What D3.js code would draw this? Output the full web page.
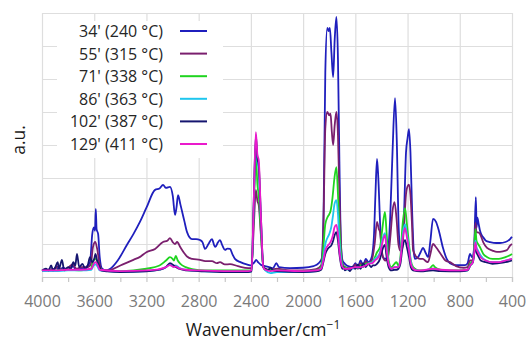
<!DOCTYPE html>
<html>
<head>
<meta charset="utf-8">
<script src="https://cdn.jsdelivr.net/npm/d3@7"></script>
<style>
  html, body { margin: 0; padding: 0; background: #fff; }
  svg { display: block; font-family: "Open Sans", "Liberation Sans", sans-serif; }
</style>
</head>
<body>
<svg id="chart" width="526" height="343"></svg>
<script>
// ---------------- DATA ----------------
const seriesNames = ["34' (240 °C)", "55' (315 °C)", "71' (338 °C)", "86' (363 °C)", "102' (387 °C)", "129' (411 °C)"];
const xLabelTicks = [4000, 3600, 3200, 2800, 2400, 2000, 1600, 1200, 800, 400];
const xMinorTicks = [4000, 3800, 3600, 3400, 3200, 3000, 2800, 2600, 2400, 2200, 2000, 1800, 1600, 1400, 1200, 1000, 800, 600, 400];
const yGridTicks = [0, 1, 2, 3, 4, 5, 6, 7, 8];

// [wavenumber cm-1, absorbance a.u.]
const s34 = [[4000,0.18],[3950,0.22],[3920,0.2],[3890,0.3],[3870,0.2],[3840,0.28],[3800,0.22],[3760,0.32],[3740,0.22],[3700,0.25],[3660,0.3],[3632,0.45],[3615,1.3],[3602,1.5],[3594,1.4],[3588,2.06],[3582,1.45],[3570,1.3],[3558,0.6],[3540,0.25],[3510,0.2],[3480,0.24],[3420,0.5],[3350,0.97],[3300,1.3],[3250,1.67],[3200,2.1],[3134,2.64],[3100,2.68],[3073,2.79],[3050,2.7],[3020,2.73],[2998,2.45],[2981,1.88],[2970,2.1],[2958,2.48],[2940,2.2],[2910,1.7],[2889,1.36],[2851,1.15],[2820,1.15],[2790,1.12],[2770,1.05],[2751,0.85],[2725,1.0],[2698,1.15],[2680,0.95],[2672,0.91],[2652,1.05],[2637,1.12],[2618,0.95],[2598,0.82],[2580,0.86],[2560,0.85],[2540,0.68],[2522,0.55],[2480,0.45],[2420,0.37],[2400,0.35],[2385,0.4],[2372,0.45],[2360,0.52],[2345,0.45],[2320,0.36],[2300,0.34],[2260,0.3],[2230,0.27],[2205,0.42],[2185,0.3],[2100,0.27],[2000,0.28],[1920,0.33],[1880,0.42],[1858,0.55],[1843,2.0],[1830,6.2],[1815,7.55],[1805,7.45],[1795,7.55],[1783,6.8],[1770,6.06],[1758,7.2],[1745,7.88],[1733,6.6],[1722,3.5],[1710,1.0],[1698,0.5],[1680,0.4],[1650,0.32],[1620,0.3],[1600,0.42],[1580,0.3],[1560,0.5],[1540,0.35],[1520,0.55],[1500,0.45],[1475,0.6],[1458,1.2],[1446,2.5],[1434,3.58],[1424,3.0],[1410,1.6],[1400,0.9],[1388,0.6],[1370,0.55],[1352,0.7],[1333,1.8],[1315,3.8],[1296,5.42],[1283,4.2],[1268,1.5],[1256,0.9],[1242,0.92],[1228,1.8],[1212,3.76],[1200,4.2],[1189,4.48],[1178,3.8],[1165,2.0],[1152,0.75],[1143,0.55],[1120,0.6],[1100,0.75],[1082,0.88],[1060,0.72],[1043,0.6],[1025,1.1],[1005,1.76],[982,1.67],[960,1.4],[930,0.9],[900,0.55],[875,0.42],[830,0.36],[790,0.36],[760,0.36],[740,0.42],[722,0.7],[705,0.6],[690,0.9],[677,2.42],[671,1.5],[665,1.8],[655,1.6],[645,1.4],[630,1.25],[620,1.2],[600,1.1],[568,1.06],[520,1.03],[492,1.03],[450,1.06],[415,1.15],[400,1.22]];

const s55 = [[4000,0.18],[3950,0.22],[3900,0.25],[3880,0.32],[3850,0.22],[3800,0.28],[3765,0.38],[3735,0.25],[3700,0.3],[3650,0.3],[3625,0.4],[3610,0.9],[3592,1.06],[3575,0.8],[3560,0.4],[3540,0.22],[3500,0.2],[3480,0.21],[3400,0.35],[3300,0.52],[3249,0.61],[3200,0.75],[3134,0.85],[3073,1.06],[3040,1.1],[3020,1.18],[2997,1.05],[2981,1.0],[2965,1.06],[2940,0.9],[2910,0.72],[2889,0.62],[2850,0.55],[2790,0.52],[2750,0.48],[2698,0.48],[2660,0.42],[2637,0.45],[2600,0.38],[2560,0.39],[2500,0.33],[2420,0.27],[2395,0.27],[2378,1.5],[2362,2.64],[2350,2.3],[2340,2.18],[2322,1.2],[2305,0.35],[2290,0.25],[2250,0.22],[2200,0.25],[2100,0.2],[2000,0.2],[1900,0.24],[1862,0.35],[1845,1.5],[1830,4.5],[1815,5.0],[1800,4.9],[1790,4.95],[1780,4.4],[1770,4.0],[1758,4.6],[1745,5.0],[1733,4.3],[1722,2.5],[1708,0.8],[1698,0.4],[1680,0.3],[1650,0.27],[1620,0.28],[1600,0.38],[1580,0.25],[1560,0.42],[1540,0.3],[1520,0.48],[1500,0.4],[1475,0.5],[1452,1.0],[1434,1.67],[1420,1.45],[1411,1.36],[1400,0.9],[1388,0.6],[1370,0.5],[1350,0.6],[1330,1.3],[1315,2.0],[1300,2.27],[1285,1.8],[1270,1.0],[1255,0.8],[1242,0.85],[1228,1.5],[1212,2.5],[1200,2.75],[1189,2.8],[1178,2.5],[1165,1.5],[1158,0.82],[1130,0.6],[1105,0.55],[1082,0.55],[1060,0.48],[1043,0.45],[1025,0.7],[1005,1.0],[982,0.9],[951,0.73],[910,0.5],[875,0.45],[829,0.33],[770,0.28],[740,0.3],[722,0.5],[705,0.5],[690,0.8],[680,1.64],[672,1.35],[660,1.35],[645,1.3],[620,1.05],[591,0.88],[550,0.8],[515,0.76],[470,0.78],[438,0.82],[415,0.95],[400,1.0]];

const s71 = [[4000,0.18],[3900,0.2],[3800,0.22],[3700,0.2],[3625,0.25],[3607,0.5],[3590,0.55],[3574,0.45],[3558,0.25],[3500,0.18],[3400,0.18],[3300,0.2],[3200,0.25],[3100,0.35],[3050,0.5],[3020,0.6],[3000,0.55],[2990,0.5],[2975,0.64],[2960,0.5],[2940,0.4],[2900,0.3],[2850,0.24],[2750,0.2],[2600,0.2],[2420,0.2],[2395,0.2],[2378,2.0],[2362,3.7],[2350,2.8],[2340,2.48],[2322,1.3],[2305,0.3],[2290,0.22],[2200,0.2],[2000,0.18],[1900,0.2],[1862,0.3],[1845,0.9],[1830,1.6],[1812,1.82],[1800,1.9],[1790,2.0],[1775,2.4],[1760,3.0],[1745,3.33],[1733,2.5],[1722,1.5],[1708,0.6],[1698,0.35],[1680,0.3],[1650,0.25],[1600,0.3],[1560,0.35],[1520,0.4],[1500,0.42],[1470,0.45],[1450,0.6],[1434,0.75],[1411,0.9],[1395,1.4],[1373,1.97],[1360,1.3],[1345,0.5],[1325,0.3],[1300,0.4],[1285,0.45],[1270,0.35],[1255,0.6],[1240,1.5],[1219,2.09],[1205,1.6],[1189,1.0],[1175,0.5],[1158,0.3],[1130,0.22],[1100,0.2],[1045,0.2],[1020,0.3],[1005,0.36],[990,0.3],[950,0.22],[900,0.2],[800,0.2],[740,0.22],[720,0.4],[700,0.5],[690,0.8],[680,1.45],[672,1.1],[660,1.0],[645,0.9],[620,0.7],[590,0.6],[550,0.55],[500,0.55],[450,0.6],[420,0.65],[400,0.7]];

const s86 = [[4000,0.18],[3900,0.18],[3800,0.2],[3700,0.2],[3622,0.22],[3604,0.35],[3588,0.38],[3573,0.3],[3558,0.2],[3400,0.16],[3200,0.18],[3100,0.22],[3050,0.3],[3020,0.38],[2990,0.32],[2975,0.35],[2950,0.28],[2900,0.22],[2800,0.18],[2600,0.16],[2420,0.16],[2395,0.17],[2378,2.2],[2362,4.15],[2350,3.5],[2340,3.24],[2322,1.6],[2305,0.3],[2290,0.2],[2250,0.12],[2200,0.15],[2000,0.15],[1900,0.18],[1862,0.25],[1845,0.6],[1830,1.0],[1812,1.2],[1800,1.3],[1785,1.5],[1770,1.9],[1760,2.2],[1745,2.33],[1733,1.9],[1722,1.1],[1708,0.5],[1698,0.3],[1680,0.25],[1650,0.22],[1600,0.28],[1560,0.3],[1520,0.35],[1500,0.4],[1470,0.45],[1450,0.55],[1434,0.6],[1411,0.75],[1395,1.1],[1373,1.33],[1360,0.9],[1345,0.4],[1325,0.25],[1300,0.3],[1285,0.3],[1270,0.3],[1255,0.5],[1240,1.2],[1219,1.6],[1205,1.3],[1189,0.9],[1175,0.45],[1158,0.25],[1130,0.2],[1100,0.18],[1005,0.25],[950,0.2],[800,0.18],[740,0.2],[720,0.35],[700,0.45],[690,0.7],[680,1.1],[672,0.9],[660,0.8],[640,0.65],[600,0.5],[550,0.45],[500,0.45],[450,0.5],[400,0.55]];

const s102 = [[4000,0.2],[3970,0.25],[3950,0.2],[3930,0.35],[3915,0.2],[3900,0.28],[3880,0.45],[3870,0.25],[3847,0.52],[3830,0.2],[3800,0.3],[3780,0.25],[3760,0.45],[3745,0.35],[3732,0.7],[3715,0.3],[3690,0.4],[3670,0.25],[3650,0.35],[3632,0.6],[3615,0.45],[3600,0.55],[3590,0.7],[3578,0.5],[3563,0.35],[3548,0.2],[3500,0.17],[3400,0.15],[3200,0.17],[3100,0.22],[3050,0.3],[3020,0.42],[2990,0.35],[2975,0.3],[2950,0.25],[2900,0.2],[2800,0.18],[2600,0.15],[2420,0.15],[2395,0.17],[2378,2.3],[2362,4.3],[2350,3.6],[2340,3.4],[2322,1.7],[2305,0.3],[2290,0.25],[2270,0.2],[2250,0.28],[2230,0.2],[2200,0.18],[2000,0.15],[1900,0.17],[1862,0.22],[1845,0.45],[1830,0.7],[1812,0.85],[1800,0.9],[1785,0.95],[1770,1.1],[1760,1.25],[1745,1.36],[1733,1.1],[1722,0.7],[1708,0.35],[1698,0.25],[1690,0.3],[1680,0.2],[1660,0.25],[1640,0.18],[1620,0.32],[1600,0.25],[1580,0.38],[1560,0.25],[1540,0.42],[1520,0.3],[1500,0.4],[1480,0.3],[1465,0.35],[1450,0.35],[1434,0.4],[1411,0.55],[1395,0.8],[1373,0.97],[1360,0.6],[1345,0.3],[1325,0.2],[1300,0.22],[1285,0.22],[1270,0.25],[1255,0.4],[1240,0.85],[1219,1.12],[1205,0.9],[1189,0.6],[1175,0.3],[1158,0.2],[1100,0.17],[1005,0.2],[950,0.18],[800,0.17],[740,0.2],[720,0.35],[700,0.45],[690,0.7],[680,0.97],[672,0.75],[660,0.65],[640,0.5],[600,0.45],[550,0.4],[500,0.42],[450,0.45],[400,0.5]];

const s129 = [[4000,0.2],[3900,0.2],[3800,0.22],[3700,0.22],[3622,0.25],[3604,0.4],[3588,0.45],[3573,0.35],[3558,0.22],[3400,0.18],[3200,0.2],[3100,0.24],[3050,0.3],[3020,0.36],[2990,0.3],[2975,0.32],[2950,0.26],[2900,0.22],[2800,0.2],[2600,0.18],[2420,0.18],[2395,0.2],[2378,2.3],[2362,4.39],[2350,3.7],[2340,3.55],[2322,1.7],[2305,0.3],[2290,0.22],[2250,0.18],[2200,0.2],[2000,0.18],[1900,0.2],[1862,0.25],[1845,0.5],[1830,0.8],[1812,0.95],[1800,1.0],[1785,1.1],[1770,1.3],[1760,1.5],[1745,1.58],[1733,1.3],[1722,0.8],[1708,0.4],[1698,0.3],[1680,0.25],[1650,0.25],[1600,0.3],[1560,0.3],[1520,0.35],[1500,0.4],[1470,0.42],[1450,0.5],[1434,0.55],[1411,0.7],[1395,1.0],[1373,1.27],[1360,0.8],[1345,0.4],[1325,0.25],[1300,0.3],[1285,0.3],[1270,0.3],[1255,0.5],[1240,1.1],[1219,1.48],[1205,1.2],[1189,0.8],[1175,0.4],[1158,0.25],[1130,0.2],[1100,0.2],[1005,0.25],[950,0.22],[800,0.2],[740,0.22],[720,0.35],[700,0.45],[690,0.7],[680,1.05],[672,0.85],[660,0.75],[640,0.6],[600,0.5],[550,0.45],[500,0.45],[450,0.5],[400,0.55]];

const seriesData = [s34, s55, s71, s86, s102, s129];
const seriesColors = ["#1f1fbd", "#7a1f6e", "#1fd41f", "#1fc6ee", "#15156f", "#ea1acc"];

// ---------------- CHART ----------------
const svg = d3.select("#chart");
const plotL = 42, plotR = 512, plotT = 13, plotB = 277;

const x = d3.scaleLinear().domain([4000, 400]).range([plotL, plotR]);
const y = d3.scaleLinear().domain([0, 8]).range([plotB, plotT]);

// gridlines
svg.append("g")
  .attr("transform", `translate(0,${plotB})`)
  .call(d3.axisBottom(x).tickValues(xLabelTicks).tickSize(-(plotB - plotT)).tickFormat(""))
  .call(g => g.select(".domain").remove())
  .call(g => g.selectAll("line").attr("stroke", "#dedede").attr("stroke-width", 1.2));

svg.append("g")
  .attr("transform", `translate(${plotL},0)`)
  .call(d3.axisLeft(y).tickValues(yGridTicks).tickSize(-(plotR - plotL)).tickFormat(""))
  .call(g => g.select(".domain").remove())
  .call(g => g.selectAll("line").attr("stroke", "#dedede").attr("stroke-width", 1.2));

// x axis with minor ticks
const xAxis = svg.append("g")
  .attr("transform", `translate(0,${plotB})`)
  .call(d3.axisBottom(x).tickValues(xMinorTicks).tickSize(5).tickPadding(14)
    .tickFormat(d => (xLabelTicks.includes(d) ? d : "")));
xAxis.select(".domain").attr("stroke", "#c8c8c8").attr("stroke-width", 1.2);
xAxis.selectAll(".tick line").attr("stroke", "#c8c8c8").attr("stroke-width", 1.2);
xAxis.selectAll(".tick text")
  .attr("fill", "#7a7a7a")
  .style("font-family", '"Open Sans", sans-serif')
  .style("font-size", "16px");

// series lines
const line = d3.line()
  .x(d => x(d[0]))
  .y(d => y(d[1]))
  .curve(d3.curveMonotoneX);

const plot = svg.append("g");
seriesData.forEach((s, i) => {
  plot.append("path")
    .datum(s)
    .attr("fill", "none")
    .attr("stroke", seriesColors[i])
    .attr("stroke-width", 1.8)
    .attr("stroke-linejoin", "round")
    .attr("d", line);
});

// legend
const legend = svg.append("g");
legend.append("rect")
  .attr("x", 57).attr("y", 21).attr("width", 166).attr("height", 137)
  .attr("fill", "#ffffff");
const rowY = d3.scalePoint().domain(seriesNames).range([31, 144]);
seriesNames.forEach((name, i) => {
  const yy = rowY(name);
  legend.append("text")
    .attr("x", 163).attr("y", yy + 6)
    .attr("text-anchor", "end")
    .attr("fill", "#262626")
    .style("font-size", "16px")
    .text(name);
  legend.append("line")
    .attr("x1", 180).attr("x2", 207)
    .attr("y1", yy).attr("y2", yy)
    .attr("stroke", seriesColors[i])
    .attr("stroke-width", 2);
});

// axis titles
const xt = svg.append("text")
  .attr("x", 263).attr("y", 336)
  .attr("text-anchor", "middle")
  .attr("fill", "#1a1a1a")
  .style("font-size", "17.5px");
xt.append("tspan").text("Wavenumber/cm");
xt.append("tspan").attr("dy", -7).style("font-size", "12px").text("−1");

svg.append("text")
  .attr("transform", "translate(25,140) rotate(-90)")
  .attr("text-anchor", "middle")
  .attr("fill", "#1a1a1a")
  .style("font-size", "17.5px")
  .text("a.u.");
</script>
</body>
</html>
